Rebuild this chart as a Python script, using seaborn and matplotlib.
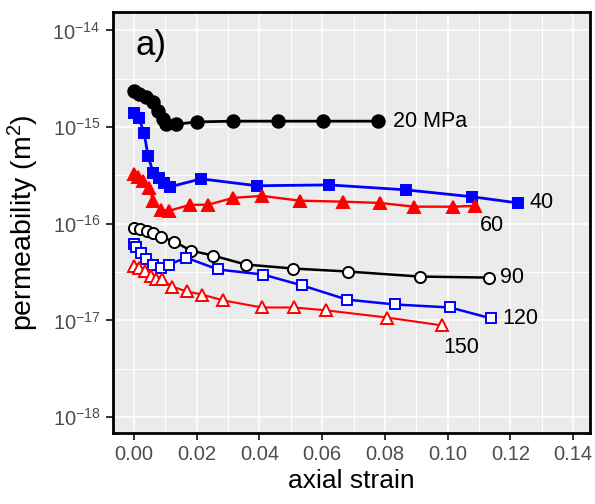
import numpy as np
import pandas as pd
import matplotlib
matplotlib.use('Agg')
import matplotlib.pyplot as plt
import matplotlib.ticker as mticker
import seaborn as sns

# 20 MPa - 黑色实心圆
strain_20 = [0.0, 0.0016, 0.0038, 0.0061, 0.0077, 0.0092, 0.0102, 0.0134, 0.0201, 0.0316, 0.0459, 0.0603, 0.0778]
perm_20 = [2.35e-15, 2.19e-15, 2.04e-15, 1.81e-15, 1.46e-15, 1.21e-15, 1.07e-15, 1.07e-15, 1.13e-15,
           1.15e-15, 1.15e-15, 1.15e-15, 1.15e-15]

# 40 MPa - 蓝色实心方块
strain_40 = [0.0, 0.0016, 0.0032, 0.0045, 0.0061, 0.0080, 0.0096, 0.0115, 0.0214, 0.0392, 0.0622, 0.0867,
             0.1078, 0.1224]
perm_40 = [1.39e-15, 1.24e-15, 8.67e-16, 5.02e-16, 3.36e-16, 2.98e-16, 2.65e-16, 2.41e-16, 2.91e-16,
           2.47e-16, 2.52e-16, 2.24e-16, 1.90e-16, 1.64e-16]

# 60 MPa - 红色实心三角
strain_60 = [0.0, 0.0013, 0.0029, 0.0048, 0.0061, 0.0086, 0.0112, 0.0179, 0.0236, 0.0316, 0.0408, 0.0529,
             0.0666, 0.0784, 0.0893, 0.1017, 0.1087]
perm_60 = [3.27e-16, 3.05e-16, 2.78e-16, 2.35e-16, 1.73e-16, 1.39e-16, 1.36e-16, 1.57e-16, 1.57e-16,
           1.85e-16, 1.94e-16, 1.73e-16, 1.69e-16, 1.64e-16, 1.50e-16, 1.50e-16, 1.53e-16]

# 90 MPa - 黑色空心圆
strain_90 = [0.0, 0.0019, 0.0041, 0.0061, 0.0086, 0.0128, 0.0182, 0.0252, 0.0357, 0.0507, 0.0682, 0.0912, 0.1132]
perm_90 = [9.1e-17, 8.88e-17, 8.47e-17, 8.07e-17, 7.34e-17, 6.52e-17, 5.27e-17, 4.68e-17, 3.78e-17,
           3.44e-17, 3.20e-17, 2.84e-17, 2.77e-17]

# 120 MPa - 蓝色空心方块
strain_120 = [0.0, 0.0006, 0.0022, 0.0038, 0.0061, 0.0086, 0.0112, 0.0166, 0.0268, 0.0411, 0.0536, 0.0679,
              0.0832, 0.1008, 0.1138]
perm_120 = [6.22e-17, 5.79e-17, 5.02e-17, 4.36e-17, 3.78e-17, 3.52e-17, 3.78e-17, 4.46e-17, 3.36e-17,
            2.98e-17, 2.30e-17, 1.64e-17, 1.46e-17, 1.36e-17, 1.05e-17]

# 150 MPa - 红色空心三角
strain_150 = [0.0, 0.0016, 0.0035, 0.0054, 0.0070, 0.0089, 0.0121, 0.0169, 0.0217, 0.0284, 0.0408, 0.0510,
              0.0612, 0.0807, 0.0982]
perm_150 = [3.61e-17, 3.52e-17, 3.27e-17, 2.91e-17, 2.71e-17, 2.65e-17, 2.24e-17, 1.99e-17, 1.85e-17,
            1.61e-17, 1.36e-17, 1.36e-17, 1.27e-17, 1.07e-17, 8.87e-18]

labels = ['20 MPa', '40', '60', '90', '120', '150']

x_ticks = [0.00, 0.02, 0.04, 0.06, 0.08, 0.10, 0.12, 0.14]
y_ticks = [1e-18, 1e-17, 1e-16, 1e-15, 1e-14]

sns.set_theme(style='darkgrid')
plt.rcParams['font.family'] = ['Liberation Sans', 'DejaVu Sans']
plt.rcParams['mathtext.default'] = 'regular'

fig = plt.figure(figsize=(5.95, 5.04), dpi=100)
ax = fig.add_axes([113 / 595, 1 - 433 / 504, (590 - 113) / 595, (433 - 12) / 504])
ax.set_facecolor('#EBEBEB')

# 每条曲线的样式: 标记, 颜色, 填充, 大小, 线宽, 标签偏移(像素)
styles = [
    (strain_20, perm_20, 'o', 'black', 'black', 9.0, 2.0, (15, 0)),
    (strain_40, perm_40, 's', 'blue', 'blue', 7.4, 2.0, (12, 0)),
    (strain_60, perm_60, '^', 'red', 'red', 9.2, 1.7, (5, -20)),
    (strain_90, perm_90, 'o', 'black', 'white', 8.0, 1.8, (11, 0)),
    (strain_120, perm_120, 's', 'blue', 'white', 7.0, 1.8, (11, 0)),
    (strain_150, perm_150, '^', 'red', 'white', 9.0, 1.5, (1, -22)),
]

for (xs, ys, mk, col, fc, ms, lw, off), lab in zip(styles, labels):
    df = pd.DataFrame({'strain': xs, 'perm': ys})
    sns.lineplot(data=df, x='strain', y='perm', ax=ax, color=col, marker=mk, markersize=ms,
                 markerfacecolor=fc, markeredgecolor=col, markeredgewidth=1.4, linewidth=lw,
                 estimator=None, sort=False)
    ax.annotate(lab, xy=(xs[-1], ys[-1]), xytext=off, textcoords='offset pixels',
                ha='left', va='center', fontsize=15.5, color='black')

ax.set_yscale('log')
ax.set_xlim(-0.0067, 0.1454)
ax.set_ylim(10 ** -18.165, 10 ** -13.81)

ax.xaxis.set_major_locator(mticker.FixedLocator(x_ticks))
ax.xaxis.set_minor_locator(mticker.FixedLocator(np.arange(0.01, 0.15, 0.02)))
ax.xaxis.set_major_formatter(mticker.FormatStrFormatter('%.2f'))
ax.yaxis.set_major_locator(mticker.FixedLocator(y_ticks))
ax.yaxis.set_minor_locator(mticker.FixedLocator([10 ** -17.5, 10 ** -16.5, 10 ** -15.5, 10 ** -14.5]))
ax.yaxis.set_major_formatter(mticker.LogFormatterMathtext())

ax.grid(which='major', color='white', linewidth=1.2)
ax.grid(which='minor', color='white', linewidth=0.7)
ax.set_axisbelow(True)

ax.tick_params(which='major', direction='out', length=5, width=1.4, color='#333333',
               labelsize=14.5, labelcolor='#4D4D4D', pad=4, bottom=True, left=True)
ax.tick_params(which='minor', length=0)

for sp in ax.spines.values():
    sp.set_visible(True)
    sp.set_color('black')
    sp.set_linewidth(2.0)

ax.set_xlabel('axial strain', fontsize=19, color='black', labelpad=3)
ax.set_ylabel('permeability (m$^2$)', fontsize=20.5, color='black', labelpad=8)

ax.text(0.048, 0.92, 'a)', transform=ax.transAxes, fontsize=25, color='black', va='center')

fig.savefig('out.png', dpi=100)
